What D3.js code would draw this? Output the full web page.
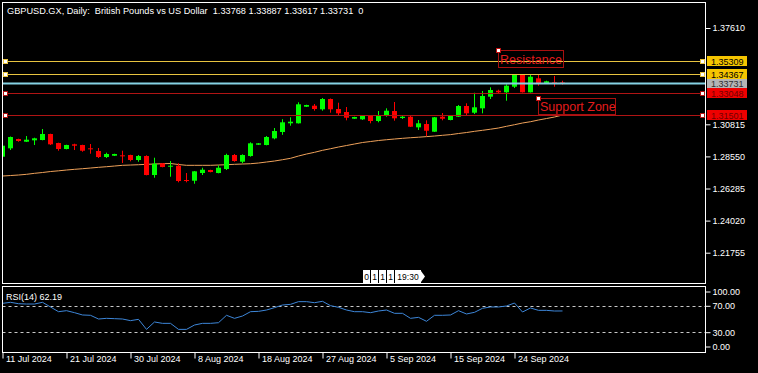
<!DOCTYPE html>
<html>
<head>
<meta charset="utf-8">
<script src="https://cdn.jsdelivr.net/npm/d3@7"></script>
<style>
body { margin: 0; background: #000; }
svg { display: block; font-family: "Liberation Sans", Arial, sans-serif; }
</style>
</head>
<body>
<svg width="758" height="373"></svg>
<script>
// daily bars, GBPUSD.GX
var dates = ["2024-07-11","2024-07-12","2024-07-14","2024-07-15","2024-07-16","2024-07-17","2024-07-18","2024-07-19",
  "2024-07-21","2024-07-22","2024-07-23","2024-07-24","2024-07-25","2024-07-26","2024-07-28","2024-07-29",
  "2024-07-30","2024-07-31","2024-08-01","2024-08-02","2024-08-04","2024-08-05","2024-08-06","2024-08-07",
  "2024-08-08","2024-08-09","2024-08-11","2024-08-12","2024-08-13","2024-08-14","2024-08-15","2024-08-16",
  "2024-08-18","2024-08-19","2024-08-20","2024-08-21","2024-08-22","2024-08-23","2024-08-25","2024-08-26",
  "2024-08-27","2024-08-28","2024-08-29","2024-08-30","2024-09-01","2024-09-02","2024-09-03","2024-09-04",
  "2024-09-05","2024-09-06","2024-09-08","2024-09-09","2024-09-10","2024-09-11","2024-09-12","2024-09-13",
  "2024-09-15","2024-09-16","2024-09-17","2024-09-18","2024-09-19","2024-09-20","2024-09-22","2024-09-23",
  "2024-09-24","2024-09-25","2024-09-26","2024-09-27","2024-09-29","2024-09-30","2024-10-01"];

var opens = [1.28528,1.29120,1.29777,1.29586,1.29685,1.29706,1.30130,1.29494,1.29071,1.29403,1.29353,1.29120,1.28930,1.28506,1.28598,1.28626,
  1.28648,1.28295,1.28577,1.27236,1.28062,1.27822,1.27892,1.26883,1.26834,1.27377,1.27589,1.27377,1.27660,1.28648,1.28175,1.28577,
  1.29374,1.29353,1.29826,1.30271,1.30885,1.30885,1.32056,1.32127,1.31873,1.32600,1.31894,1.31682,1.31209,1.31167,1.31421,1.31047,
  1.31470,1.31753,1.31259,1.31350,1.30602,1.30835,1.30292,1.31350,1.31118,1.31350,1.32106,1.31633,1.31943,1.32762,1.33185,1.33072,
  1.33468,1.34314,1.33072,1.34060,1.33729,1.33778,1.33768];
var highs = [1.29389,1.29953,1.29798,1.29988,1.29868,1.30482,1.30151,1.29516,1.29374,1.29445,1.29374,1.29424,1.29142,1.28810,1.28739,1.28951,
  1.28669,1.28648,1.28626,1.28457,1.28083,1.28224,1.28062,1.27377,1.27518,1.27751,1.27610,1.27921,1.28739,1.28718,1.28697,1.29544,
  1.29494,1.29988,1.30553,1.31174,1.31308,1.32367,1.32197,1.32247,1.32670,1.32635,1.32338,1.32035,1.31350,1.31470,1.31435,1.31753,
  1.31943,1.32388,1.31421,1.31470,1.31118,1.31096,1.31329,1.31612,1.31421,1.32176,1.32296,1.33044,1.33164,1.33425,1.33256,1.33637,
  1.34342,1.34364,1.34314,1.34314,1.33891,1.34223,1.33887];
var lows = [1.28436,1.29000,1.29586,1.29565,1.29353,1.29685,1.29353,1.28951,1.29050,1.29000,1.28881,1.28739,1.28436,1.28436,1.28577,1.28083,
  1.28203,1.28175,1.27215,1.27046,1.27780,1.27116,1.26721,1.26721,1.26622,1.27236,1.27427,1.27356,1.27589,1.28175,1.28062,1.28528,
  1.29353,1.29332,1.29756,1.30073,1.30715,1.30871,1.32035,1.31774,1.31774,1.31633,1.31449,1.31096,1.31188,1.31118,1.30885,1.30955,
  1.31350,1.31068,1.31188,1.30624,1.30412,1.29988,1.30271,1.31096,1.31096,1.31329,1.31421,1.31541,1.31590,1.32600,1.33023,1.32480,
  1.33376,1.33058,1.33058,1.33538,1.33708,1.33468,1.33617];
var closes = [1.29304,1.29918,1.29636,1.29727,1.29826,1.30130,1.29403,1.29071,1.29353,1.29304,1.28951,1.29050,1.28506,1.28718,1.28718,1.28556,
  1.28295,1.28577,1.27236,1.28034,1.27801,1.27892,1.26813,1.26813,1.27497,1.27610,1.27448,1.27751,1.28648,1.28224,1.28648,1.29473,
  1.29473,1.29918,1.30341,1.30955,1.30998,1.32226,1.32176,1.31894,1.32600,1.31873,1.31590,1.31280,1.31329,1.31400,1.31047,1.31470,
  1.31774,1.31238,1.31350,1.30645,1.30885,1.30362,1.31308,1.31209,1.31400,1.32106,1.31590,1.32014,1.32811,1.33235,1.33072,1.33538,
  1.34314,1.33072,1.34173,1.33708,1.33849,1.33708,1.33731];

// moving average (orange)
var maValues = [1.27166,1.27201,1.27236,1.27286,1.27356,1.27413,1.27483,1.27533,1.27589,1.27638,1.27681,1.27730,1.27780,1.27822,1.27871,1.27921,
  1.27942,1.27963,1.27991,1.28012,1.28034,1.28048,1.27977,1.27921,1.27921,1.27921,1.27921,1.27942,1.27963,1.27991,1.28012,1.28034,
  1.28083,1.28154,1.28224,1.28316,1.28415,1.28577,1.28718,1.28838,1.28979,1.29092,1.29212,1.29318,1.29424,1.29530,1.29600,1.29671,
  1.29727,1.29777,1.29826,1.29868,1.29904,1.29946,1.29988,1.30038,1.30087,1.30165,1.30235,1.30320,1.30391,1.30468,1.30553,1.30673,
  1.30786,1.30906,1.30998,1.31118,1.31223,1.31329,1.31470];

// RSI(14)
var rsiValues = [73.7,75.3,73.2,72.7,72.7,75.3,68.2,61.1,62.6,59.6,56.1,55.6,50.0,51.0,50.5,50.0,
  47.5,49.5,34.3,45.5,43.4,43.4,34.3,34.3,40.9,43.4,43.4,44.4,55.6,51.0,54.5,61.1,
  61.6,63.6,67.2,71.2,72.2,76.3,76.3,74.7,76.8,70.2,67.7,63.6,61.1,61.1,59.6,62.1,
  63.6,58.6,58.6,51.0,52.5,46.5,55.6,55.6,56.1,62.6,57.6,60.1,66.2,68.2,68.2,69.7,
  74.2,60.6,66.7,63.1,63.1,62.1,62.19];

var priceTicks = [1.37610, 1.30815, 1.28550, 1.26285, 1.24020, 1.21755];
var rsiTicks = [100, 70, 30, 0];
var rsiLevels = [70, 30];
var dateTickIdx = [0, 8, 16, 24, 32, 40, 48, 56, 64];

var levelValues = [1.35309, 1.34367, 1.33048, 1.31501];
var levelKinds = ["yellow", "yellow", "red", "red"];
var bidValue = 1.33731;

var title = "GBPUSD.GX, Daily:  British Pounds vs US Dollar  1.33768 1.33887 1.33617 1.33731  0";

var svg = d3.select("svg");
var plotL = 2.5, plotR = 705.5, plotT = 2.5, mainB = 283.5, rsiT = 286.5, rsiB = 352.5;

var style = {
  yellow: {line: "#e8c440", box: "#f6c500", text: "#000"},
  red: {line: "#b01414", box: "#ee0000", text: "#700000"}
};

var x = d3.scaleLinear().domain([0, dates.length - 1]).range([2.5, 2.5 + 8 * (dates.length - 1)]);
var y = d3.scaleLinear().domain([1.21755, 1.37610]).range([252.7, 28]);
var yR = d3.scaleLinear().domain([0, 100]).range([352, 286]);
var parse = d3.timeParse("%Y-%m-%d"), fmt = d3.timeFormat("%-d %b %Y");
function crisp(v) { return Math.round(v) + 0.5; }

var defs = svg.append("defs");
defs.append("clipPath").attr("id", "clipMain").append("rect")
  .attr("x", 3).attr("y", 3).attr("width", 702).attr("height", 280);
defs.append("clipPath").attr("id", "clipRsi").append("rect")
  .attr("x", 3).attr("y", 287).attr("width", 702).attr("height", 65);

svg.append("rect").attr("width", 758).attr("height", 373).attr("fill", "#000");

var main = svg.append("g").attr("clip-path", "url(#clipMain)");

// moving average
main.append("path")
  .datum(maValues)
  .attr("fill", "none")
  .attr("stroke", "#eea15a")
  .attr("stroke-width", 1)
  .attr("d", d3.line().x(function(d, i) { return x(i); }).y(function(d) { return y(d); }));

// candles
var bars = main.append("g").selectAll("g")
  .data(dates.map(function(d, i) { return i; }))
  .enter().append("g")
  .attr("fill", function(i) { return closes[i] >= opens[i] ? "#00ff00" : "#ff0000"; })
  .attr("stroke", function(i) { return closes[i] >= opens[i] ? "#00ff00" : "#ff0000"; });

bars.append("line")
  .attr("x1", function(i) { return x(i); })
  .attr("x2", function(i) { return x(i); })
  .attr("y1", function(i) { return y(highs[i]); })
  .attr("y2", function(i) { return y(lows[i]); })
  .attr("stroke-width", 1);

bars.append("rect")
  .attr("stroke", "none")
  .attr("x", function(i) { return x(i) - 2.5; })
  .attr("width", 5)
  .attr("y", function(i) { return y(Math.max(opens[i], closes[i])); })
  .attr("height", function(i) { return Math.max(1, Math.abs(y(opens[i]) - y(closes[i]))); });

// horizontal levels
main.append("line")
  .attr("x1", plotL).attr("x2", plotR)
  .attr("y1", crisp(y(bidValue))).attr("y2", crisp(y(bidValue)))
  .attr("stroke", "#86d2e4").attr("stroke-width", 2);

main.selectAll(".level")
  .data(levelValues)
  .enter().append("line")
  .attr("class", "level")
  .attr("x1", plotL).attr("x2", plotR)
  .attr("y1", function(d) { return crisp(y(d)); })
  .attr("y2", function(d) { return crisp(y(d)); })
  .attr("stroke", function(d, i) { return style[levelKinds[i]].line; });

// handles at both ends
[3, 700].forEach(function(hx) {
  svg.selectAll(null)
    .data(levelValues)
    .enter().append("rect")
    .attr("x", hx + 0.5)
    .attr("y", function(d) { return Math.round(y(d)) - 1.5; })
    .attr("width", 4).attr("height", 4)
    .attr("fill", "#fff")
    .attr("stroke", function(d, i) { return style[levelKinds[i]].line; });
});

// text objects
var notes = [
  {text: "Resistance", x: 498, y: 50, w: 65, h: 17},
  {text: "Support Zone", x: 538, y: 98, w: 77, h: 16}
];
notes.forEach(function(n) {
  svg.append("rect")
    .attr("x", n.x + 0.5).attr("y", n.y + 0.5).attr("width", n.w).attr("height", n.h)
    .attr("fill", "none").attr("stroke", "#a81010");
  svg.append("text")
    .attr("x", n.x + 2).attr("y", n.y + n.h - 3)
    .attr("font-size", 12.5).attr("fill", "#e41c1c")
    .text(n.text);
  svg.append("rect")
    .attr("x", n.x - 1.5).attr("y", n.y - 1.5).attr("width", 4).attr("height", 4)
    .attr("fill", "#fff").attr("stroke", "#c01010");
});

// title
svg.append("text")
  .attr("x", 7).attr("y", 13.5)
  .attr("font-size", 9.2).attr("fill", "#fff")
  .style("white-space", "pre")
  .text(title);

// price axis
var yAxis = svg.append("g")
  .attr("transform", "translate(" + plotR + ",0)")
  .call(d3.axisRight(y).tickValues(priceTicks).tickFormat(d3.format(".5f")).tickSize(5).tickPadding(2));
yAxis.select(".domain").remove();
yAxis.selectAll("line").attr("stroke", "#fff");
yAxis.selectAll("text").attr("fill", "#fff").attr("font-size", 9).attr("font-family", "Liberation Sans, Arial, sans-serif");

// price boxes on the axis
function priceBox(v, fill, color) {
  var cy = Math.round(y(v));
  svg.append("rect").attr("x", 707).attr("y", cy - 5).attr("width", 40).attr("height", 10).attr("fill", fill);
  svg.append("text").attr("x", 711).attr("y", cy + 3.5)
    .attr("font-size", 9).attr("fill", color).text(d3.format(".5f")(v));
}
priceBox(bidValue, "#b4b4b4", "#303030");
levelValues.forEach(function(v, i) { priceBox(v, style[levelKinds[i]].box, style[levelKinds[i]].text); });

// timer label
var timerParts = ["0", "1", "1", "1", "19:30"];
var tx = 363;
timerParts.forEach(function(t) {
  var w = t.length > 1 ? 26 : 7;
  svg.append("rect").attr("x", tx).attr("y", 270).attr("width", w).attr("height", 13).attr("fill", "#fff");
  svg.append("text").attr("x", tx + w / 2).attr("y", 280).attr("text-anchor", "middle")
    .attr("font-size", 8.5).attr("fill", "#000").text(t);
  tx += w + 1;
});
svg.append("path").attr("d", "M" + (tx - 1) + ",271 L" + (tx + 3) + ",276.5 L" + (tx - 1) + ",282 Z").attr("fill", "#fff");

// RSI panel
var rsiG = svg.append("g").attr("clip-path", "url(#clipRsi)");
rsiG.selectAll(".lvl")
  .data(rsiLevels)
  .enter().append("line")
  .attr("x1", plotL).attr("x2", plotR)
  .attr("y1", function(d) { return crisp(yR(d)); })
  .attr("y2", function(d) { return crisp(yR(d)); })
  .attr("stroke", "#c8c8c8").attr("stroke-dasharray", "3,3");
rsiG.append("path")
  .datum(rsiValues)
  .attr("fill", "none")
  .attr("stroke", "#3d86d8")
  .attr("d", d3.line().x(function(d, i) { return x(i); }).y(function(d) { return yR(d); }));

svg.append("text").attr("x", 6).attr("y", 299.5).attr("font-size", 9).attr("fill", "#fff")
  .text("RSI(14) " + rsiValues[rsiValues.length - 1].toFixed(2));

var rAxis = svg.append("g")
  .attr("transform", "translate(" + plotR + ",0)")
  .call(d3.axisRight(yR).tickValues(rsiTicks).tickFormat(d3.format(".2f")).tickSize(5).tickPadding(2));
rAxis.select(".domain").remove();
rAxis.selectAll(".tick").filter(function(d) { return d === 100; }).attr("transform", "translate(0," + (yR(100) + 6) + ")");
rAxis.selectAll(".tick").filter(function(d) { return d === 0; }).attr("transform", "translate(0," + (yR(0) - 5) + ")");
rAxis.selectAll("line").attr("stroke", "#fff");
rAxis.selectAll("text").attr("fill", "#fff").attr("font-size", 9).attr("font-family", "Liberation Sans, Arial, sans-serif");

// date axis
var xAxis = svg.append("g")
  .attr("transform", "translate(0," + rsiB + ")")
  .call(d3.axisBottom(x).tickValues(dateTickIdx)
    .tickFormat(function(i) { return fmt(parse(dates[i])); }).tickSize(6).tickPadding(0));
xAxis.select(".domain").remove();
xAxis.selectAll("line").attr("stroke", "#fff");
xAxis.selectAll("text").attr("fill", "#fff").attr("font-size", 9)
  .attr("font-family", "Liberation Sans, Arial, sans-serif")
  .attr("text-anchor", "start").attr("dx", 3).attr("dy", 3);

// panel borders
svg.append("rect").attr("x", plotL).attr("y", plotT).attr("width", plotR - plotL).attr("height", mainB - plotT)
  .attr("fill", "none").attr("stroke", "#fff");
svg.append("rect").attr("x", plotL).attr("y", rsiT).attr("width", plotR - plotL).attr("height", rsiB - rsiT)
  .attr("fill", "none").attr("stroke", "#fff");
</script>
</body>
</html>
